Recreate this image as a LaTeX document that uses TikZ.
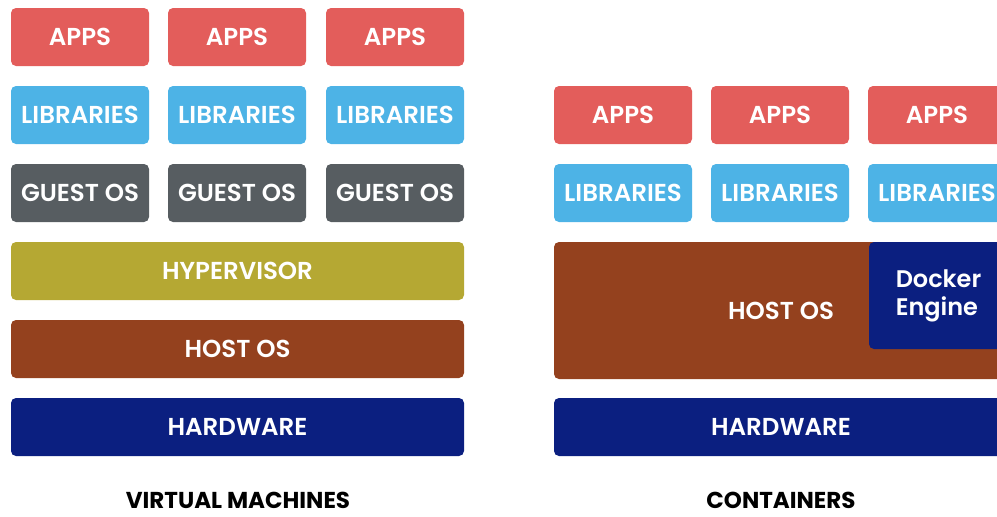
\documentclass[tikz,border=0pt]{standalone}
\usepackage{fontspec}
\setmainfont{Poppins}[BoldFont={Poppins SemiBold}]
\newfontfamily\capfont{Poppins}[UprightFont={Poppins Bold}]
\definecolor{appred}{HTML}{E35D5B}
\definecolor{libblue}{HTML}{4DB3E6}
\definecolor{guestgray}{HTML}{575D61}
\definecolor{hypolive}{HTML}{B5A833}
\definecolor{hostbrown}{HTML}{94411E}
\definecolor{hwnavy}{HTML}{0B1F80}
\begin{document}
\begin{tikzpicture}[x=1pt,y=-1pt,
  layer/.style={rounded corners=5pt, inner sep=0pt, text=white,
    minimum height=58pt, font=\bfseries\fontsize{24.5}{28}\selectfont},
  small/.style={layer, minimum width=138pt},
  wide/.style={layer, minimum width=453pt},
  caption/.style={font=\capfont\fontsize{23}{28}\selectfont, text=black,
    inner sep=0pt, anchor=base, text depth=0pt}]
\useasboundingbox (0,0) rectangle (997,517);
\clip (0,0) rectangle (997,517);
% Virtual machines
\node[small, fill=appred] (va1) at (80,37) {APPS};
\node[small, fill=appred] (va2) at (237,37) {APPS};
\node[small, fill=appred] (va3) at (395,37) {APPS};
\node[small, fill=libblue] (vl1) at (80,115) {LIBRARIES};
\node[small, fill=libblue] (vl2) at (237,115) {LIBRARIES};
\node[small, fill=libblue] (vl3) at (395,115) {LIBRARIES};
\node[small, fill=guestgray] (vg1) at (80,193) {GUEST OS};
\node[small, fill=guestgray] (vg2) at (237,193) {GUEST OS};
\node[small, fill=guestgray] (vg3) at (395,193) {GUEST OS};
\node[wide, fill=hypolive] (vhyp) at (237.5,271) {HYPERVISOR};
\node[wide, fill=hostbrown] (vhost) at (237.5,349) {HOST OS};
\node[wide, fill=hwnavy] (vhw) at (237.5,427) {HARDWARE};
\node[caption] (vcap) at (238,508) {VIRTUAL MACHINES};
% Containers
\node[small, fill=appred] (ca1) at (623,115) {APPS};
\node[small, fill=appred] (ca2) at (780,115) {APPS};
\node[small, fill=appred] (ca3) at (937,115) {APPS};
\node[small, fill=libblue] (cl1) at (623,193) {LIBRARIES};
\node[small, fill=libblue] (cl2) at (780,193) {LIBRARIES};
\node[small, fill=libblue] (cl3) at (937,193) {LIBRARIES};
\node[layer, fill=hostbrown, minimum width=454pt, minimum height=137pt] (chost) at (781,310.5) {};
\node[text=white, inner sep=0pt, font=\bfseries\fontsize{24.5}{28}\selectfont] (chostlbl) at (781,311) {HOST OS};
\node[layer, fill=hwnavy, minimum width=139pt, minimum height=107pt, align=left,
  font=\bfseries\fontsize{24}{28}\selectfont] (docker) at (938.5,295.5) {Docker\\Engine};
\node[layer, fill=hwnavy, minimum width=454pt] (chw) at (781,427) {HARDWARE};
\node[caption] (ccap) at (781,508) {CONTAINERS};
\end{tikzpicture}
\end{document}
